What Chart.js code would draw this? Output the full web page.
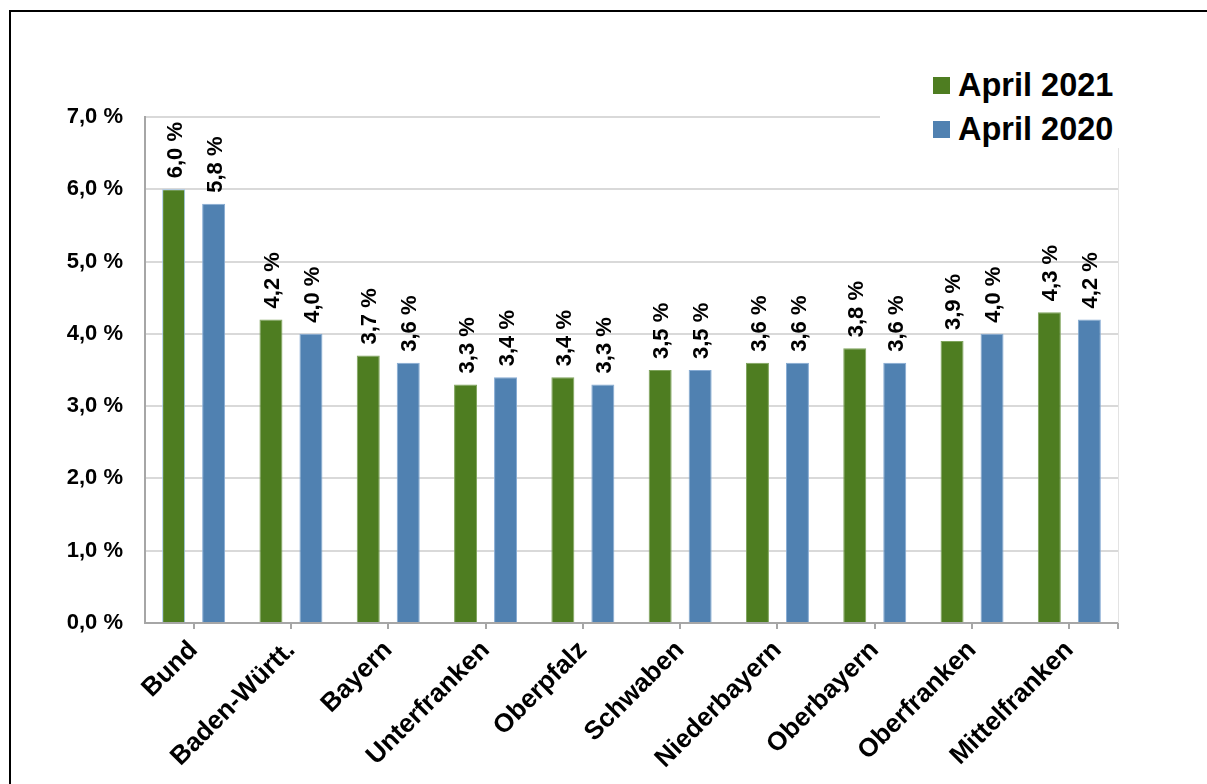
<!DOCTYPE html>
<html lang="de">
<head>
  <meta charset="UTF-8" />
  <title>Arbeitslosenquote April</title>
  <script src="https://cdn.jsdelivr.net/npm/chart.js"></script>
  <style>
    body { margin: 0; background: #fff; font-family: "Liberation Sans", Arial, sans-serif; }
    .rahmen { position: absolute; left: 9px; top: 10px; width: 1400px; height: 1000px; border-left: 2px solid #000; border-top: 2px solid #000; }
    .grafico { position: absolute; left: 0; top: 0; width: 1207px; height: 784px; }
    .legende { position: absolute; left: 880px; top: 50px; width: 240px; height: 98px; background: #fff; padding-top: 13px; box-sizing: border-box; }
    .legende div { display: flex; align-items: center; height: 44px; font-weight: bold; font-size: 32.5px; color: #000; white-space: nowrap; }
    .legende span.box { display: inline-block; width: 17px; height: 17px; margin-left: 53px; margin-right: 8px; flex: none; }
  </style>
</head>
<body>

  <div class="rahmen"></div>
  <div class="grafico"><canvas id="graficoQuote"></canvas></div>
  <div class="legende" id="legende"></div>

  <script>
    const regionen = ['Bund', 'Baden-Württ.', 'Bayern', 'Unterfranken', 'Oberpfalz', 'Schwaben', 'Niederbayern', 'Oberbayern', 'Oberfranken', 'Mittelfranken'];
    const serien = ['April 2021', 'April 2020'];
    const april2021 = [6.0, 4.2, 3.7, 3.3, 3.4, 3.5, 3.6, 3.8, 3.9, 4.3];
    const april2020 = [5.8, 4.0, 3.6, 3.4, 3.3, 3.5, 3.6, 3.6, 4.0, 4.2];
    const yTicks = [0, 1, 2, 3, 4, 5, 6, 7];

    const gruen = '#4e7d21';
    const blau = '#5081b1';

    const fmt = v => v.toFixed(1).replace('.', ',') + ' %';

    // Werte über den Balken, senkrecht
    const wertLabels = {
      id: 'wertLabels',
      afterDatasetsDraw(chart) {
        const ctx = chart.ctx;
        ctx.save();
        ctx.font = 'bold 22px "Liberation Sans", Arial, sans-serif';
        ctx.fillStyle = '#000';
        ctx.textAlign = 'left';
        ctx.textBaseline = 'middle';
        chart.data.datasets.forEach((ds, i) => {
          chart.getDatasetMeta(i).data.forEach((bar, j) => {
            ctx.save();
            ctx.translate(bar.x + 2, bar.y - 11);
            ctx.rotate(-Math.PI / 2);
            ctx.fillText(fmt(ds.data[j]), 0, 0);
            ctx.restore();
          });
        });
        ctx.restore();
      }
    };

    // rechter Rand der Zeichenfläche
    const rechterRand = {
      id: 'rechterRand',
      beforeDatasetsDraw(chart) {
        const { ctx, chartArea } = chart;
        ctx.save();
        ctx.strokeStyle = '#e3e3e3';
        ctx.lineWidth = 1;
        ctx.beginPath();
        ctx.moveTo(chartArea.right + 0.5, chartArea.top);
        ctx.lineTo(chartArea.right + 0.5, chartArea.bottom);
        ctx.stroke();
        ctx.strokeStyle = '#a6a6a6';
        ctx.lineWidth = 2;
        ctx.beginPath();
        ctx.moveTo(chartArea.right, chartArea.bottom);
        ctx.lineTo(chartArea.right, chartArea.bottom + 6);
        ctx.stroke();
        ctx.restore();
      }
    };

    const ctx = document.getElementById('graficoQuote');
    new Chart(ctx, {
      type: 'bar',
      data: {
        labels: regionen,
        datasets: [{
          label: serien[0],
          data: april2021,
          backgroundColor: gruen,
          borderColor: regionen.map((r, i) => i === 0 ? '#9dc3e6' : '#7fa45c'),
          borderWidth: 1,
          categoryPercentage: 0.822,
          barPercentage: 0.575
        }, {
          label: serien[1],
          data: april2020,
          backgroundColor: blau,
          borderColor: '#86abd3',
          borderWidth: 1,
          categoryPercentage: 0.822,
          barPercentage: 0.575
        }]
      },
      options: {
        responsive: true,
        maintainAspectRatio: false,
        animation: false,
        layout: { padding: { top: 117, right: 89, left: 0, bottom: 0 } },
        plugins: {
          legend: { display: false },
          tooltip: { enabled: false }
        },
        scales: {
          x: {
            afterFit: s => { s.height = 161; },
            grid: { offset: false, drawOnChartArea: false, tickLength: 6, color: '#a6a6a6', lineWidth: 2 },
            border: { color: '#a6a6a6', width: 2 },
            ticks: {
              color: '#000',
              font: { family: '"Liberation Sans", Arial, sans-serif', size: 26, weight: 'bold' },
              minRotation: 45,
              maxRotation: 45,
              padding: 6
            }
          },
          y: {
            min: 0,
            max: 7,
            afterFit: s => { s.width = 145; },
            afterBuildTicks: s => { s.ticks = yTicks.map(v => ({ value: v })); },
            grid: { color: '#d9d9d9', lineWidth: 2, drawTicks: false },
            border: { color: '#a6a6a6', width: 2 },
            ticks: {
              color: '#000',
              padding: 22,
              font: { family: '"Liberation Sans", Arial, sans-serif', size: 22, weight: 'bold' },
              callback: v => fmt(v)
            }
          }
        }
      },
      plugins: [wertLabels, rechterRand]
    });

    const legende = document.getElementById('legende');
    serien.forEach((name, i) => {
      const zeile = document.createElement('div');
      const box = document.createElement('span');
      box.className = 'box';
      box.style.background = i === 0 ? gruen : blau;
      zeile.appendChild(box);
      zeile.appendChild(document.createTextNode(name));
      legende.appendChild(zeile);
    });
  </script>

</body>
</html>
